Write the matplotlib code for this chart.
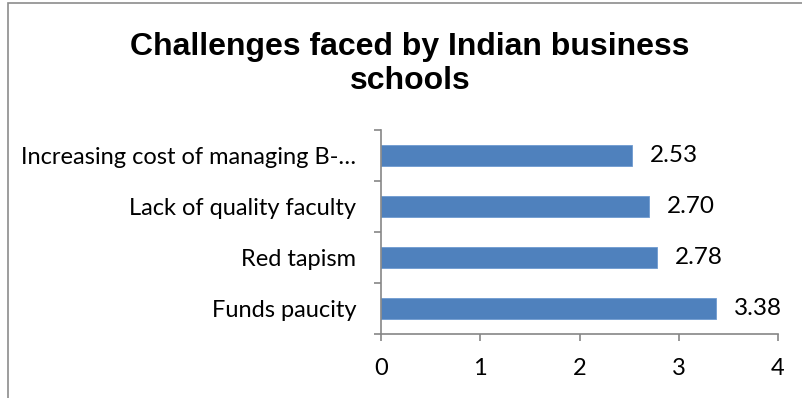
import matplotlib.pyplot as plt
from matplotlib.patches import Rectangle
import numpy as np

categories = ["Funds paucity", "Red tapism", "Lack of quality faculty",
              "Increasing cost of managing B-\u2026"]
scores = [3.38, 2.78, 2.70, 2.53]
x_ticks = [0, 1, 2, 3, 4]

bar_color = "#4F81BD"
axis_color = "#868686"
label_size = 17

fig = plt.figure(figsize=(8.02, 3.98), dpi=100)

# chart area border (cropped at right and bottom like the original)
fig.patches.append(Rectangle((8 / 802, -0.1), 1.2, 1.1 - 3 / 398,
                             transform=fig.transFigure, fill=False,
                             edgecolor="#8c8c8c", linewidth=1.2))

ax = fig.add_axes([381 / 802, 1 - 334 / 398, 397 / 802, 204 / 398])

y = np.arange(len(categories))
ax.barh(y, scores, height=0.4, color=bar_color, edgecolor="#6f9bd0", linewidth=0.6)

# value labels
for yi, v in zip(y, scores):
    ax.text(v + 0.18, yi, f"{v:.2f}", va="center", ha="left",
            fontsize=label_size + 0.5, family="Lato", color="black")

ax.set_xlim(0, 4)
ax.set_ylim(-0.5, len(categories) - 0.5)
ax.set_xticks(x_ticks)
ax.set_xticklabels([str(t) for t in x_ticks], fontsize=label_size, family="Lato")

# ticks between categories, labels at the centre
ax.set_yticks(np.arange(-0.5, len(categories), 1.0))
ax.set_yticklabels([])
ax.set_yticks(y, minor=True)
ax.set_yticklabels(categories, minor=True, fontsize=label_size, family="Lato")
ax.tick_params(axis="y", which="minor", length=0, pad=18)
ax.tick_params(axis="y", which="major", length=5, color=axis_color, width=1.2)
ax.tick_params(axis="x", length=5, color=axis_color, width=1.2, pad=12)

for side in ["top", "right"]:
    ax.spines[side].set_visible(False)
for side in ["left", "bottom"]:
    ax.spines[side].set_color(axis_color)
    ax.spines[side].set_linewidth(1.2)

fig.text(410 / 802, 1 - 64 / 398, "Challenges faced by Indian business\nschools",
         ha="center", va="center", fontsize=23, fontweight="bold",
         family="Liberation Sans", linespacing=1.15)

fig.savefig("out.png", dpi=100)
